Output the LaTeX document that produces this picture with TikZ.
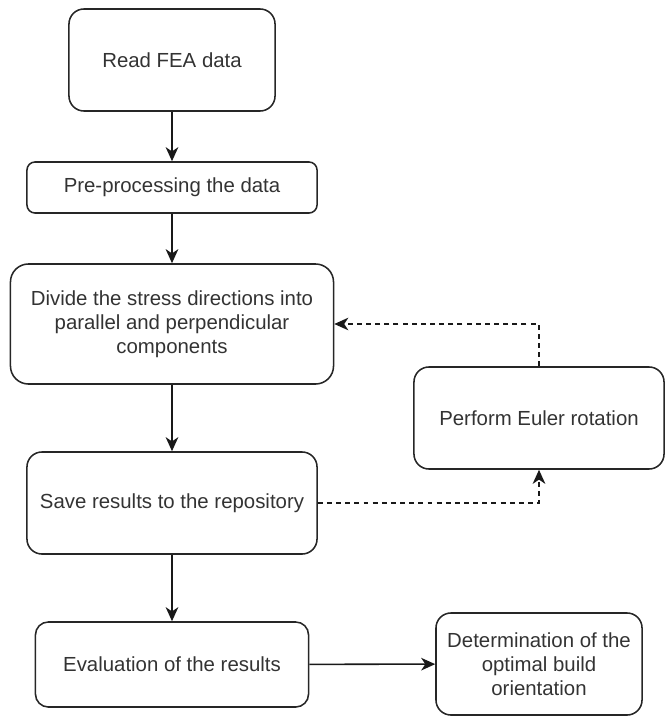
\documentclass[tikz,border=0pt]{standalone}
\usepackage{fontspec}
\setmainfont{Liberation Sans}
\usetikzlibrary{arrows.meta}
\begin{document}
\begin{tikzpicture}[x=0.025cm,y=-0.025cm,
  font=\fontsize{14.5}{17}\selectfont,
  box/.style={draw=black!85,line width=1.1pt,rounded corners=0.375cm,
    align=center,text=black!80,inner sep=0pt},
  flow/.style={-{Stealth[length=10pt,width=9pt,inset=3pt]},line width=1.1pt,draw=black!90},
  back/.style={flow,dash pattern=on 3.5pt off 3pt}]
 \useasboundingbox (0,0) rectangle (664,716);
 % main column
 \node[box,minimum width=5.15cm,minimum height=2.55cm] (read) at (172,60) {Read FEA data};
 \node[box,minimum width=7.25cm,minimum height=1.275cm,rounded corners=0.2cm] (prep) at (172,187.5) {Pre-processing the data};
 \node[box,minimum width=8.075cm,minimum height=3cm,rounded corners=0.45cm] (divide) at (172,324)
   {Divide the stress directions into\\parallel and perpendicular\\components};
 \node[box,minimum width=7.25cm,minimum height=2.55cm] (save) at (172,503) {Save results to the repository};
 \node[box,minimum width=6.825cm,minimum height=2.125cm,rounded corners=0.32cm] (evaluate) at (172,664.5) {Evaluation of the results};
 % right column
 \node[box,minimum width=6.25cm,minimum height=2.55cm] (euler) at (539,418) {Perform Euler rotation};
 \node[box,minimum width=5.15cm,minimum height=2.55cm] (optimal) at (539,664)
   {Determination of the\\optimal build\\orientation};
 \draw[flow] (read) -- (prep);
 \draw[flow] (prep) -- (divide);
 \draw[flow] (divide) -- (save);
 \draw[flow] (save) -- (evaluate);
 \draw[flow] (evaluate) -- (optimal);
 % rotation loop
 \draw[back] (save.east) -| (euler.south);
 \draw[back] (euler.north) |- (divide.east);
\end{tikzpicture}
\end{document}
